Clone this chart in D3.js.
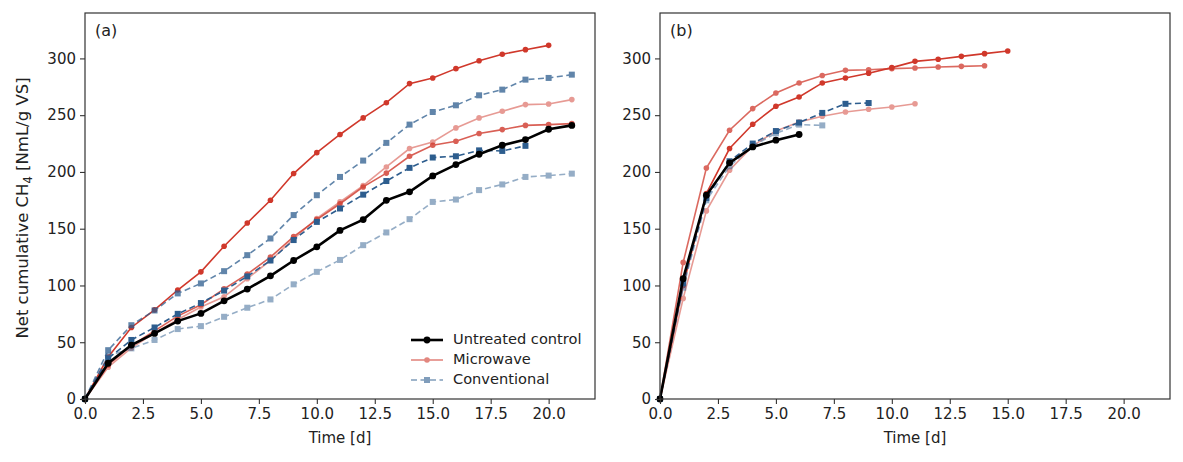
<!DOCTYPE html>
<html>
<head>
<meta charset="utf-8">
<script src="https://cdn.jsdelivr.net/npm/d3@7"></script>
<style>
  body { margin: 0; background: #fff; }
  text { font-family: "DejaVu Sans", sans-serif; fill: #222; }
  .axis path, .axis line { stroke: #333; }
</style>
</head>
<body>
<div id="chart"></div>
<script>
// days (x values); each series runs from day 0 for as many values as it has
var days = [0, 1, 2, 3, 4, 5, 6, 7, 8, 9, 10, 11, 12, 13, 14, 15, 16, 17, 18, 19, 20, 21];
var xTicks = [0, 2.5, 5, 7.5, 10, 12.5, 15, 17.5, 20];
var yTicks = [0, 50, 100, 150, 200, 250, 300];
var legendLabels = ["Untreated control", "Microwave", "Conventional"];

// panel (a)
var controlA = [0, 31.5, 47.5, 57.8, 68.6, 75.4, 86.5, 96.8, 108.5, 122, 134, 148.5, 158, 175, 182.5, 196.5, 206.5, 215.6, 223.5, 228.5, 237.6, 241];
var microA1 = [0, 37, 63, 78.5, 96, 112, 134.6, 155, 175, 198.6, 217, 233, 247.6, 261, 277.8, 282.8, 291, 298, 303.6, 307.7, 311.5];
var microA2 = [0, 30, 47, 60, 73, 83, 97, 110, 125, 143, 158, 172, 186.8, 199, 213.8, 223.5, 227, 233.8, 237.3, 241, 241.7, 242.6];
var microA3 = [0, 28, 45, 58, 70, 81, 90, 106, 122, 141, 159, 173.6, 188, 204.4, 220.6, 226.4, 238.8, 247.6, 253.4, 259.3, 259.9, 263.7];
var convA1 = [0, 43, 65, 78, 93, 101.8, 112.6, 126.7, 141.4, 162, 179.5, 195.6, 210, 225.6, 241.7, 252.8, 258.7, 267.5, 272.5, 281.3, 282.8, 285.7];
var convA2 = [0, 35.8, 52, 63, 75, 84.5, 95.5, 108, 122, 140, 156, 167.8, 180, 192, 203.6, 212.7, 213.8, 219, 218.5, 223];
var convA3 = [0, 38, 44.6, 52, 61.6, 64.2, 72.4, 80.4, 87.7, 101, 112, 122.5, 135.5, 146.7, 158.4, 173.6, 175.7, 184, 189, 195.6, 196.8, 198.5];

// panel (b)
var controlB = [0, 106, 179.5, 208, 222, 228, 233];
var microB1 = [0, 120.3, 203.5, 236.7, 255.8, 269.5, 278.4, 285, 289.5, 290, 291, 291.6, 292.4, 293, 293.6];
var microB2 = [0, 100, 181, 220.6, 242, 257.8, 266, 278.4, 282.8, 287, 291.9, 297.4, 299.2, 301.8, 304.2, 306.5];
var microB3 = [0, 88.6, 165.7, 201.5, 223, 236, 244, 249, 252.8, 255.2, 257.2, 260];
var convB1 = [0, 102, 177, 209.4, 225, 236, 243.5, 252, 260, 260.7];
var convB2 = [0, 98, 175, 205, 223, 234, 241.7, 241];

var red = "#d0382b";
var blue = "#2d5d8e";

function init(){
  var w = 1183;
  var h = 462;
  var top = 13, bottom = 399, pw = 510;

  var svg = d3.select("#chart")
    .append("svg")
    .attr("width", w)
    .attr("height", h);

  var panelA = [
    {v: microA3, c: red, o: 0.5, kind: "mw"},
    {v: microA2, c: red, o: 0.8, kind: "mw"},
    {v: microA1, c: red, o: 1, kind: "mw"},
    {v: convA3, c: blue, o: 0.5, kind: "conv"},
    {v: convA1, c: blue, o: 0.75, kind: "conv"},
    {v: convA2, c: blue, o: 1, kind: "conv"},
    {v: controlA, c: "#000", o: 1, kind: "ctrl"}
  ];
  var panelB = [
    {v: microB3, c: red, o: 0.5, kind: "mw"},
    {v: microB1, c: red, o: 0.75, kind: "mw"},
    {v: microB2, c: red, o: 1, kind: "mw"},
    {v: convB2, c: blue, o: 0.5, kind: "conv"},
    {v: convB1, c: blue, o: 1, kind: "conv"},
    {v: controlB, c: "#000", o: 1, kind: "ctrl"}
  ];

  drawPanel(85, "(a)", panelA, true);
  drawPanel(660, "(b)", panelB, false);

  // y label
  svg.append("text")
    .attr("transform", "translate(28," + ((top + bottom) / 2 + 2) + ") rotate(-90)")
    .attr("text-anchor", "middle")
    .style("font-size", "16.5px")
    .html("Net cumulative CH<tspan font-size='11.5px' dy='4'>4</tspan><tspan dy='-4'> [NmL/g VS]</tspan>");

  function drawPanel(x0, label, series, withLegend){
    var xScale = d3.scaleLinear().domain([0, 22]).range([x0, x0 + pw]);
    var yScale = d3.scaleLinear().domain([0, 340]).range([bottom, top]);

    var g = svg.append("g");

    var line = d3.line()
      .x(function(d, i){ return xScale(days[i]); })
      .y(function(d){ return yScale(d); });

    series.forEach(function(s){
      var sg = g.append("g").attr("opacity", s.o);
      sg.append("path")
        .datum(s.v)
        .attr("d", line)
        .attr("fill", "none")
        .attr("stroke", s.c)
        .attr("stroke-width", s.kind == "ctrl" ? 2.6 : 1.6)
        .attr("stroke-dasharray", s.kind == "conv" ? "6,3.5" : null);
      if (s.kind == "conv") {
        sg.selectAll("rect")
          .data(s.v)
          .enter().append("rect")
          .attr("x", function(d, i){ return xScale(days[i]) - 3; })
          .attr("y", function(d){ return yScale(d) - 3; })
          .attr("width", 6).attr("height", 6)
          .attr("fill", s.c);
      } else {
        sg.selectAll("circle")
          .data(s.v)
          .enter().append("circle")
          .attr("cx", function(d, i){ return xScale(days[i]); })
          .attr("cy", function(d){ return yScale(d); })
          .attr("r", s.kind == "ctrl" ? 3.4 : 2.8)
          .attr("fill", s.c);
      }
    });

    var xAxis = d3.axisBottom(xScale).tickValues(xTicks).tickFormat(d3.format(".1f")).tickSize(5).tickPadding(4);
    var yAxis = d3.axisLeft(yScale).tickValues(yTicks).tickSize(5).tickPadding(4);

    var xa = svg.append("g")
      .attr("class", "axis")
      .attr("transform", "translate(0," + bottom + ")")
      .call(xAxis);
    var ya = svg.append("g")
      .attr("class", "axis")
      .attr("transform", "translate(" + x0 + ",0)")
      .call(yAxis);
    [xa, ya].forEach(function(a){
      a.select(".domain").remove();
      a.selectAll("text").style("font-size", "15px").style("font-family", "DejaVu Sans").attr("fill", "#222");
      a.selectAll("line").attr("stroke-width", 1.1);
    });

    // frame
    svg.append("rect")
      .attr("x", x0).attr("y", top)
      .attr("width", pw).attr("height", bottom - top)
      .attr("fill", "none")
      .attr("stroke", "#333")
      .attr("stroke-width", 1.2);

    svg.append("text").attr("x", x0 + 10).attr("y", top + 23).text(label).style("font-size", "16px");

    svg.append("text")
      .attr("x", x0 + pw / 2).attr("y", bottom + 44)
      .attr("text-anchor", "middle")
      .text("Time [d]").style("font-size", "15px");

    if (withLegend) legend();
  }

  function legend(){
    var items = [
      {c: "#000", o: 1, kind: "ctrl"},
      {c: red, o: 0.6, kind: "mw"},
      {c: blue, o: 0.6, kind: "conv"}
    ];
    items.forEach(function(it, i){
      var y = 340 + i * 20;
      var lg = svg.append("g").attr("opacity", it.o);
      lg.append("line").attr("x1", 411).attr("x2", 443).attr("y1", y).attr("y2", y)
        .attr("stroke", it.c)
        .attr("stroke-width", it.kind == "ctrl" ? 2.6 : 1.6)
        .attr("stroke-dasharray", it.kind == "conv" ? "6,3.5" : null);
      if (it.kind == "conv") {
        lg.append("rect").attr("x", 424).attr("y", y - 3).attr("width", 6).attr("height", 6).attr("fill", it.c);
      } else {
        lg.append("circle").attr("cx", 427).attr("cy", y).attr("r", it.kind == "ctrl" ? 3.4 : 2.8).attr("fill", it.c);
      }
      svg.append("text").attr("x", 453).attr("y", y).text(legendLabels[i])
        .style("font-size", "14.6px").attr("dominant-baseline", "middle");
    });
  }
}

window.onload = init;
</script>
</body>
</html>
